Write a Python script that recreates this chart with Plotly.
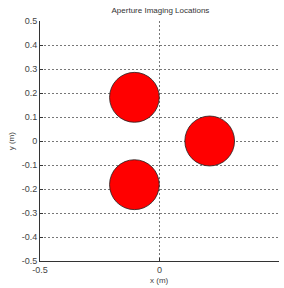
import plotly.graph_objects as go

x_centers = [0.21, -0.105, -0.105]
y_centers = [0.0, 0.182, -0.182]
radius = [0.104, 0.104, 0.104]

y_ticks = [-0.5, -0.4, -0.3, -0.2, -0.1, 0, 0.1, 0.2, 0.3, 0.4, 0.5]
y_labels = ["-0.5", "-0.4", "-0.3", "-0.2", "-0.1", "0", "0.1", "0.2", "0.3", "0.4", "0.5"]
x_ticks = [-0.5, 0, 0.5]
x_labels = ["-0.5", "0", "0.5"]

fig = go.Figure()
fig.add_trace(go.Scatter(x=x_centers, y=y_centers, mode="markers",
                         marker=dict(size=1, opacity=0), showlegend=False, hoverinfo="skip"))
for cx, cy, r in zip(x_centers, y_centers, radius):
    fig.add_shape(type="circle", xref="x", yref="y",
                  x0=cx - r, x1=cx + r, y0=cy - r, y1=cy + r,
                  fillcolor="#ff0000", line=dict(color="#222222", width=0.8))

axis_common = dict(showgrid=True, gridcolor="#777777", griddash="2px,2px", gridwidth=1,
                   zeroline=False, showline=True, linecolor="#333333", linewidth=1,
                   ticks="inside", ticklen=3, tickcolor="#333333", automargin=False,
                   tickfont=dict(family="Liberation Sans, Arial", size=9, color="#444444"),
                   mirror=False)
fig.update_xaxes(range=[-0.5, 0.5], tickvals=x_ticks, ticktext=x_labels, **axis_common)
fig.update_yaxes(range=[-0.5, 0.5], tickvals=y_ticks, ticktext=y_labels, **axis_common)
fig.add_annotation(text="x (m)", xref="paper", yref="paper", x=0.5, y=-0.08,
                   xanchor="center", yanchor="middle", showarrow=False,
                   font=dict(family="Liberation Sans, Arial", size=8, color="#444444"))
fig.add_annotation(text="y (m)", xref="paper", yref="paper", x=-0.12, y=0.5,
                   xanchor="center", yanchor="middle", textangle=-90, showarrow=False,
                   font=dict(family="Liberation Sans, Arial", size=8, color="#444444"))
fig.update_layout(width=284, height=288, margin=dict(l=40, r=5, t=21, b=27),
                  plot_bgcolor="white", paper_bgcolor="white",
                  font=dict(family="Liberation Sans, Arial", color="#333333"),
                  title=dict(text="Aperture Imaging Locations", x=0.565, xanchor="center",
                             y=0.965, yanchor="middle",
                             font=dict(size=8, color="#333333")))
fig.write_html("out.html", config={"displayModeBar": False},
               post_script="document.body.style.margin='0';document.body.style.padding='0';document.body.style.overflow='hidden';")
